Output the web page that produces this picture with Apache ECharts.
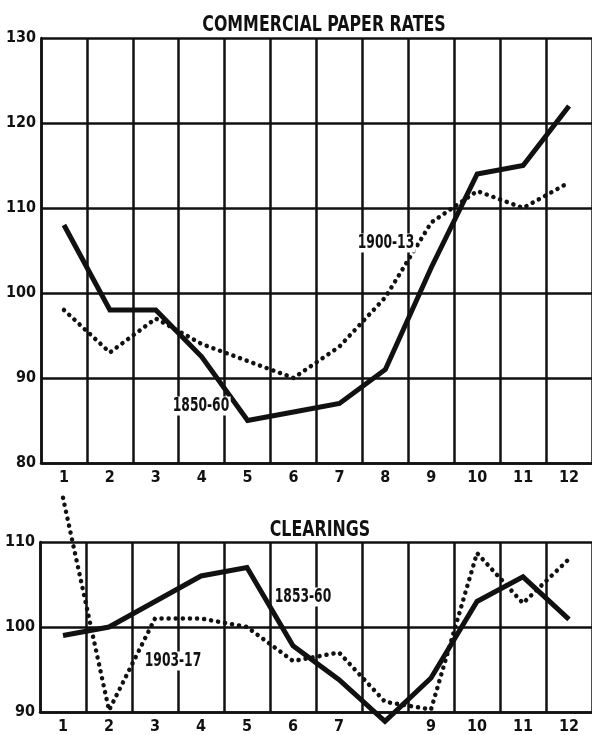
<!DOCTYPE html>
<html><head><meta charset="utf-8">
<script src="https://cdn.jsdelivr.net/npm/echarts@6/dist/echarts.min.js"></script>
<style>html,body{margin:0;padding:0;background:#fff}#c{width:592px;height:735px}</style>
</head><body><div id="c"></div>
<script>
// ---- data ----
const months = ['1','2','3','4','5','6','7','8','9','10','11','12'];
const topTickLabels = ['1','2','3','4','5','6','7','8','9','10','11','12'];
const bottomTickLabels = ['1','2','3','4','5','6','7','','9','10','11','12'];
const paper1850_60 = [108, 98, 98, 92.5, 85, 86, 87, 91, 103, 114, 115, 122];
const paper1900_13 = [98, 93, 97, 94, 92, 90, 93.7, 99.5, 108.3, 112, 110, 113];
const clear1853_60 = [99, 100, 103, 106, 107, 97.8, 93.8, 88.9, 94, 103, 105.9, 100.9];
const clear1903_17 = [115.2, 90.2, 101, 101, 100, 96, 97, 91.2, 90.3, 108.7, 102.8, 108];

const F = '"DejaVu Sans Condensed", "DejaVu Sans", sans-serif';
const black = '#111';
const gridLine = {show: true, lineStyle: {color: black, width: 2.5}};

const chart = echarts.init(document.getElementById('c'), null, {renderer: 'canvas'});

function xAxisFor(gi, labels) {
  return {
    type: 'category', gridIndex: gi, data: months, boundaryGap: true,
    axisLine: {show: true, lineStyle: {color: black, width: 2.5}},
    axisTick: {show: false},
    splitLine: gridLine,
    axisLabel: {
      margin: 7, color: black, fontFamily: F, fontWeight: 'bold', fontSize: 16,
      formatter: (v, i) => labels[i], interval: 0
    }
  };
}
function yAxisFor(gi, min, max) {
  return {
    type: 'value', gridIndex: gi, min: min, max: max, interval: 10,
    axisLine: {show: true, lineStyle: {color: black, width: 2.5}},
    axisTick: {show: false},
    splitLine: gridLine,
    axisLabel: {margin: 5, color: black, fontFamily: F, fontWeight: 'bold', fontSize: 16}
  };
}
const solid = {type: 'line', symbol: 'none', clip: false, smooth: false,
  lineStyle: {color: black, width: 5, join: 'miter'}, z: 5};
const dotted = {type: 'line', symbol: 'none', clip: false, smooth: false,
  lineStyle: {color: black, width: 4.5, type: [0.1, 7], cap: 'round'}, z: 4};

function note(text, x, y, size, sx) {
  return {type: 'text', x: x, y: y, z: 10, scaleX: sx,
    style: {text: text, font: 'bold ' + size + 'px ' + F, fill: black, align: 'center',
      verticalAlign: 'middle', backgroundColor: '#fff', padding: [0, 2]}};
}

chart.setOption({
  animation: false,
  backgroundColor: '#fff',
  grid: [
    {left: 41, top: 38, width: 562, height: 425},
    {left: 40, top: 542, width: 562, height: 170}
  ],
  xAxis: [xAxisFor(0, topTickLabels), xAxisFor(1, bottomTickLabels)],
  yAxis: [yAxisFor(0, 80, 130), yAxisFor(1, 90, 110)],
  series: [
    Object.assign({name: '1850-60', xAxisIndex: 0, yAxisIndex: 0, data: paper1850_60}, solid),
    Object.assign({name: '1900-13', xAxisIndex: 0, yAxisIndex: 0, data: paper1900_13}, dotted),
    Object.assign({name: '1853-60', xAxisIndex: 1, yAxisIndex: 1, data: clear1853_60}, solid),
    Object.assign({name: '1903-17', xAxisIndex: 1, yAxisIndex: 1, data: clear1903_17}, dotted)
  ],
  graphic: [
    {type: 'text', x: 324, y: 25, scaleX: 0.8, style: {text: 'COMMERCIAL PAPER RATES', font: 'bold 22px ' + F, fill: black, align: 'center', verticalAlign: 'middle'}},
    {type: 'text', x: 320, y: 530, scaleX: 0.8, style: {text: 'CLEARINGS', font: 'bold 22px ' + F, fill: black, align: 'center', verticalAlign: 'middle'}},
    note('1900-13', 386, 243, 19, 0.72),
    note('1850-60', 201, 406, 19, 0.72),
    note('1853-60', 303, 597, 19, 0.72),
    note('1903-17', 173, 661, 19, 0.72)
  ]
});
</script>
</body></html>
